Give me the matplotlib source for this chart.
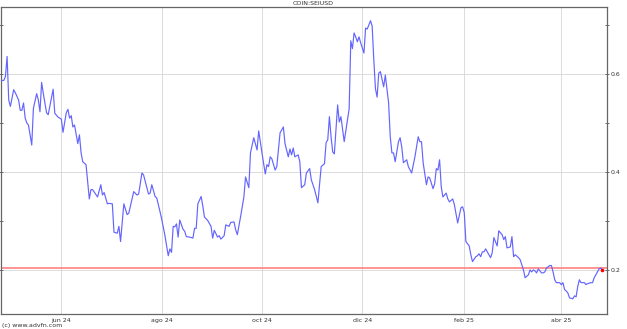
import matplotlib
matplotlib.use("Agg")
import matplotlib.pyplot as plt
from matplotlib.ticker import MultipleLocator
import pandas as pd

# COIN:SEIUSD daily close
start = "2024-04-25"
day = [0, 2, 3, 4, 5, 6, 8, 9, 11, 12, 13, 14, 15, 16, 17, 19, 20, 22, 23, 24,
       25, 26, 28, 29, 30, 32, 33, 35, 37, 38, 40, 41, 42, 43, 44, 45, 47, 48, 49, 50,
       52, 54, 55, 56, 59, 61, 62, 63, 65, 66, 68, 69, 71, 72, 73, 75, 77, 78, 81, 83,
       84, 86, 87, 90, 91, 92, 94, 95, 97, 98, 100, 102, 103, 104, 105, 106, 107, 108, 109, 111,
       112, 113, 115, 117, 118, 119, 120, 122, 123, 124, 126, 128, 129, 130, 132, 133, 134, 136, 137, 139,
       140, 142, 143, 144, 146, 148, 149, 151, 152, 154, 156, 157, 159, 161, 162, 163, 164, 165, 167, 168,
       170, 172, 173, 175, 176, 177, 178, 179, 181, 182, 183, 185, 186, 188, 189, 191, 193, 195, 197, 198,
       199, 200, 201, 202, 203, 205, 206, 207, 209, 211, 212, 213, 214, 215, 216, 217, 218, 219, 221, 222,
       223, 225, 226, 227, 228, 229, 230, 231, 233, 234, 236, 237, 238, 239, 240, 242, 243, 244, 245, 247,
       248, 250, 252, 254, 255, 256, 257, 259, 260, 261, 263, 264, 265, 266, 267, 268, 269, 271, 272, 273,
       275, 276, 278, 280, 281, 282, 283, 285, 286, 287, 289, 290, 291, 292, 293, 294, 295, 297, 298, 299,
       300, 302, 303, 305, 306, 307, 308, 310, 311, 312, 313, 315, 316, 318, 319, 321, 322, 323, 324, 325,
       326, 327, 328, 329, 330, 331, 332, 334, 335, 336, 337, 338, 340, 341, 342, 343, 344, 345, 346, 348,
       349, 350, 351, 352, 353, 355, 356, 357, 359, 360, 361, 362, 363, 364, 365, 366]
price = [0.587, 0.587, 0.595, 0.636, 0.547, 0.534, 0.568, 0.562, 0.547, 0.526, 0.526, 0.541, 0.510, 0.500, 0.496, 0.455, 0.530, 0.560, 0.547, 0.523,
         0.583, 0.561, 0.521, 0.517, 0.534, 0.569, 0.520, 0.512, 0.508, 0.481, 0.521, 0.528, 0.510, 0.515, 0.492, 0.496, 0.458, 0.476, 0.439, 0.421,
         0.415, 0.345, 0.364, 0.364, 0.349, 0.374, 0.353, 0.358, 0.335, 0.336, 0.335, 0.277, 0.275, 0.289, 0.258, 0.335, 0.313, 0.316, 0.360, 0.353,
         0.355, 0.398, 0.394, 0.355, 0.357, 0.374, 0.350, 0.347, 0.319, 0.304, 0.270, 0.229, 0.243, 0.236, 0.289, 0.288, 0.294, 0.267, 0.302, 0.283,
         0.279, 0.268, 0.267, 0.265, 0.285, 0.285, 0.335, 0.350, 0.331, 0.308, 0.301, 0.289, 0.265, 0.281, 0.267, 0.270, 0.263, 0.270, 0.292, 0.289,
         0.297, 0.298, 0.282, 0.272, 0.309, 0.349, 0.390, 0.368, 0.439, 0.470, 0.445, 0.484, 0.439, 0.396, 0.415, 0.411, 0.431, 0.427, 0.404, 0.411,
         0.480, 0.492, 0.458, 0.431, 0.447, 0.435, 0.449, 0.431, 0.435, 0.421, 0.368, 0.374, 0.398, 0.407, 0.384, 0.364, 0.337, 0.411, 0.417, 0.460,
         0.466, 0.513, 0.472, 0.441, 0.437, 0.537, 0.502, 0.513, 0.462, 0.507, 0.529, 0.668, 0.652, 0.684, 0.676, 0.666, 0.676, 0.664, 0.643, 0.694,
         0.692, 0.709, 0.698, 0.629, 0.570, 0.553, 0.602, 0.605, 0.574, 0.598, 0.541, 0.472, 0.439, 0.439, 0.421, 0.462, 0.470, 0.451, 0.419, 0.425,
         0.411, 0.398, 0.431, 0.472, 0.462, 0.462, 0.419, 0.374, 0.390, 0.388, 0.366, 0.376, 0.407, 0.404, 0.425, 0.370, 0.349, 0.357, 0.345, 0.339,
         0.345, 0.333, 0.296, 0.327, 0.329, 0.317, 0.258, 0.249, 0.231, 0.217, 0.227, 0.229, 0.233, 0.227, 0.237, 0.237, 0.243, 0.231, 0.225, 0.235,
         0.266, 0.249, 0.280, 0.272, 0.262, 0.268, 0.245, 0.247, 0.268, 0.227, 0.231, 0.225, 0.221, 0.200, 0.184, 0.190, 0.200, 0.196, 0.200, 0.198,
         0.194, 0.202, 0.198, 0.194, 0.194, 0.196, 0.204, 0.209, 0.209, 0.196, 0.180, 0.174, 0.174, 0.170, 0.174, 0.160, 0.157, 0.153, 0.143, 0.141,
         0.147, 0.145, 0.166, 0.180, 0.174, 0.174, 0.170, 0.172, 0.174, 0.174, 0.184, 0.190, 0.196, 0.202, 0.204, 0.200]
last_price = 0.2045
month_ticks = ["2024-06-01", "2024-08-01", "2024-10-01", "2024-12-01", "2025-02-01", "2025-04-01"]
month_labels = ["jun 24", "ago 24", "oct 24", "dic 24", "feb 25", "abr 25"]

dates = pd.Timestamp(start) + pd.to_timedelta(day, unit="D")

fig = plt.figure(figsize=(6.27, 3.29), dpi=100)
ax = fig.add_axes([1 / 627, 1 - 314 / 329, 606 / 627, 307 / 329])

ax.plot(dates, price, color="#6464ff", lw=0.85, zorder=3)
ax.axhline(last_price, color="#ff8080", lw=1.2, zorder=2)
ax.plot(dates[-1:], price[-1:], "o", color="red", ms=1.6, zorder=4)

ax.set_xlim(pd.Timestamp(start) + pd.Timedelta(days=0.3), pd.Timestamp(start) + pd.Timedelta(days=368.8))
ax.set_ylim(0.110, 0.737)

ax.set_xticks(pd.to_datetime(month_ticks))
ax.set_xticklabels(month_labels)
ax.yaxis.set_major_locator(MultipleLocator(0.2))
ax.yaxis.set_minor_locator(MultipleLocator(0.1))
ax.yaxis.set_major_formatter(plt.FuncFormatter(lambda v, p: f"{v:.1f}"))
ax.yaxis.tick_right()
ax.tick_params(axis="y", which="both", right=True, left=True, direction="inout",
               length=3, width=0.6, colors="#555555", labelsize=4.5, pad=1, labelcolor="#333333")
ax.tick_params(axis="x", length=0, labelsize=4.5, pad=3, labelcolor="#333333")

ax.grid(True, which="major", color="#d6d6d6", lw=0.6)
for s in ax.spines.values():
    s.set_color("#666666")
    s.set_linewidth(0.9)

fig.text(0.5, 1 - 3.5 / 329, "COIN:SEIUSD", ha="center", va="center", fontsize=4.5, color="#333333")
fig.text(2 / 627, 1 - 325 / 329, "(c) www.advfn.com", ha="left", va="center", fontsize=4.5, color="#333333")

fig.savefig("out.png", dpi=100)
